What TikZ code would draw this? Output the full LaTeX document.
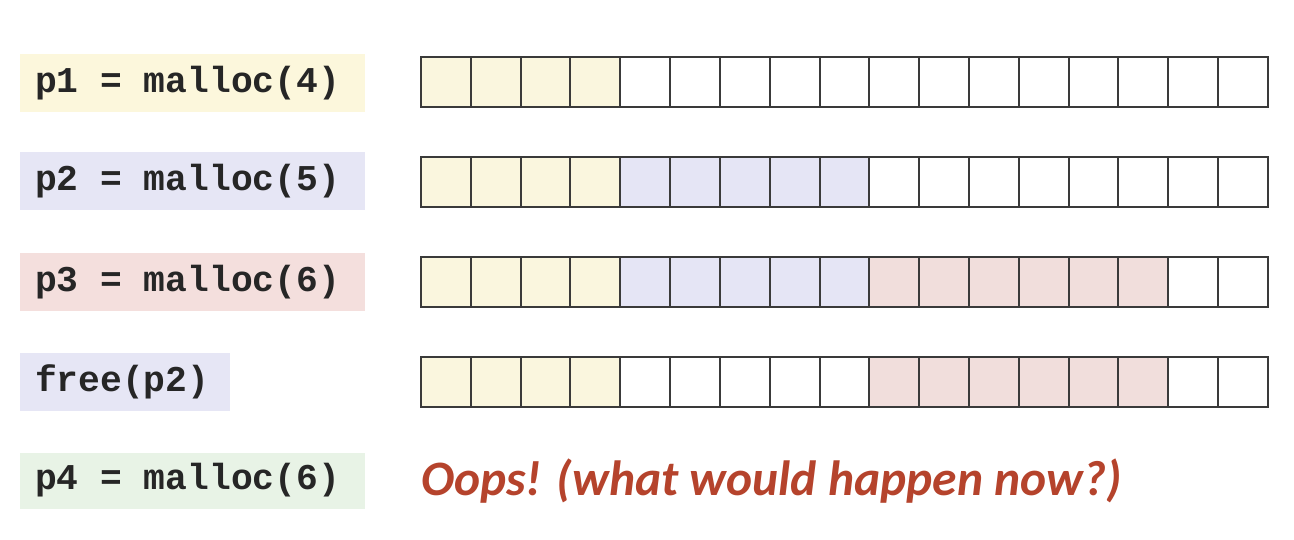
\documentclass[tikz,border=0pt]{standalone}
\usepackage{fontspec}
\newfontfamily\codefont{Liberation Mono}[BoldFont={Liberation Mono Bold}]
\newfontfamily\oopsfont{Carlito}
\newcommand\msp{\hspace*{0.6em}}
\definecolor{lblY}{HTML}{FCF7DC}
\definecolor{lblB}{HTML}{E6E6F5}
\definecolor{lblR}{HTML}{F4DFDD}
\definecolor{lblG}{HTML}{E8F3E6}
\definecolor{cY}{HTML}{FAF6DE}
\definecolor{cB}{HTML}{E5E5F5}
\definecolor{cR}{HTML}{F1DEDC}
\definecolor{cW}{HTML}{FFFFFF}
\definecolor{gridc}{HTML}{3A3A3A}
\definecolor{oopsc}{HTML}{B5432C}
\tikzset{
  lbl/.style={rectangle, inner xsep=15pt, inner ysep=0pt, align=left,
    font=\codefont\bfseries\fontsize{36.3}{40}\selectfont, text=black!85},
  cell/.style={rectangle, draw=gridc, line width=2pt, minimum width=49.82pt,
    minimum height=50pt, inner sep=0pt},
  oops/.style={font=\oopsfont\bfseries\itshape\fontsize{49.5}{54}\selectfont,
    text=oopsc, inner sep=0pt}
}
\begin{document}
\begin{tikzpicture}[x=1pt,y=-1pt]
\useasboundingbox (0,0) rectangle (1294,540);
\fill[white] (0,0) rectangle (1294,540);
% labels
\node[lbl, fill=lblY, minimum width=345pt, minimum height=58pt, text width=315pt] (l1) at (192.5,83) {p1\msp=\msp malloc(4)};
\node[lbl, fill=lblB, minimum width=345pt, minimum height=58pt, text width=315pt] (l2) at (192.5,181.5) {p2\msp=\msp malloc(5)};
\node[lbl, fill=lblR, minimum width=345pt, minimum height=58pt, text width=315pt] (l3) at (192.5,282) {p3\msp=\msp malloc(6)};
\node[lbl, fill=lblB, minimum width=210pt, minimum height=58pt, text width=180pt] (l4) at (125,381.5) {free(p2)};
\node[lbl, fill=lblG, minimum width=345pt, minimum height=56pt, text width=315pt] (l5) at (192.5,480.5) {p4\msp=\msp malloc(6)};
% row 1
\foreach \i in {0,...,16}{
  \ifnum\i<4 \def\cc{cY}\else\def\cc{cW}\fi
  \node[cell, fill=\cc] (a\i) at ({421+49.82*(\i+0.5)},82.5) {};
}
% row 2
\foreach \i in {0,...,16}{
  \ifnum\i<4 \def\cc{cY}\else\ifnum\i<9 \def\cc{cB}\else\def\cc{cW}\fi\fi
  \node[cell, fill=\cc] (b\i) at ({421+49.82*(\i+0.5)},182) {};
}
% row 3
\foreach \i in {0,...,16}{
  \ifnum\i<4 \def\cc{cY}\else\ifnum\i<9 \def\cc{cB}\else\ifnum\i<15 \def\cc{cR}\else\def\cc{cW}\fi\fi\fi
  \node[cell, fill=\cc] (c\i) at ({421+49.82*(\i+0.5)},282) {};
}
% row 4
\foreach \i in {0,...,16}{
  \ifnum\i<4 \def\cc{cY}\else\ifnum\i<9 \def\cc{cW}\else\ifnum\i<15 \def\cc{cR}\else\def\cc{cW}\fi\fi\fi
  \node[cell, fill=\cc] (d\i) at ({421+49.82*(\i+0.5)},382) {};
}
\node[oops, anchor=base west] (oops) at (421,495) {Oops! (what would happen now?)};
\end{tikzpicture}
\end{document}
